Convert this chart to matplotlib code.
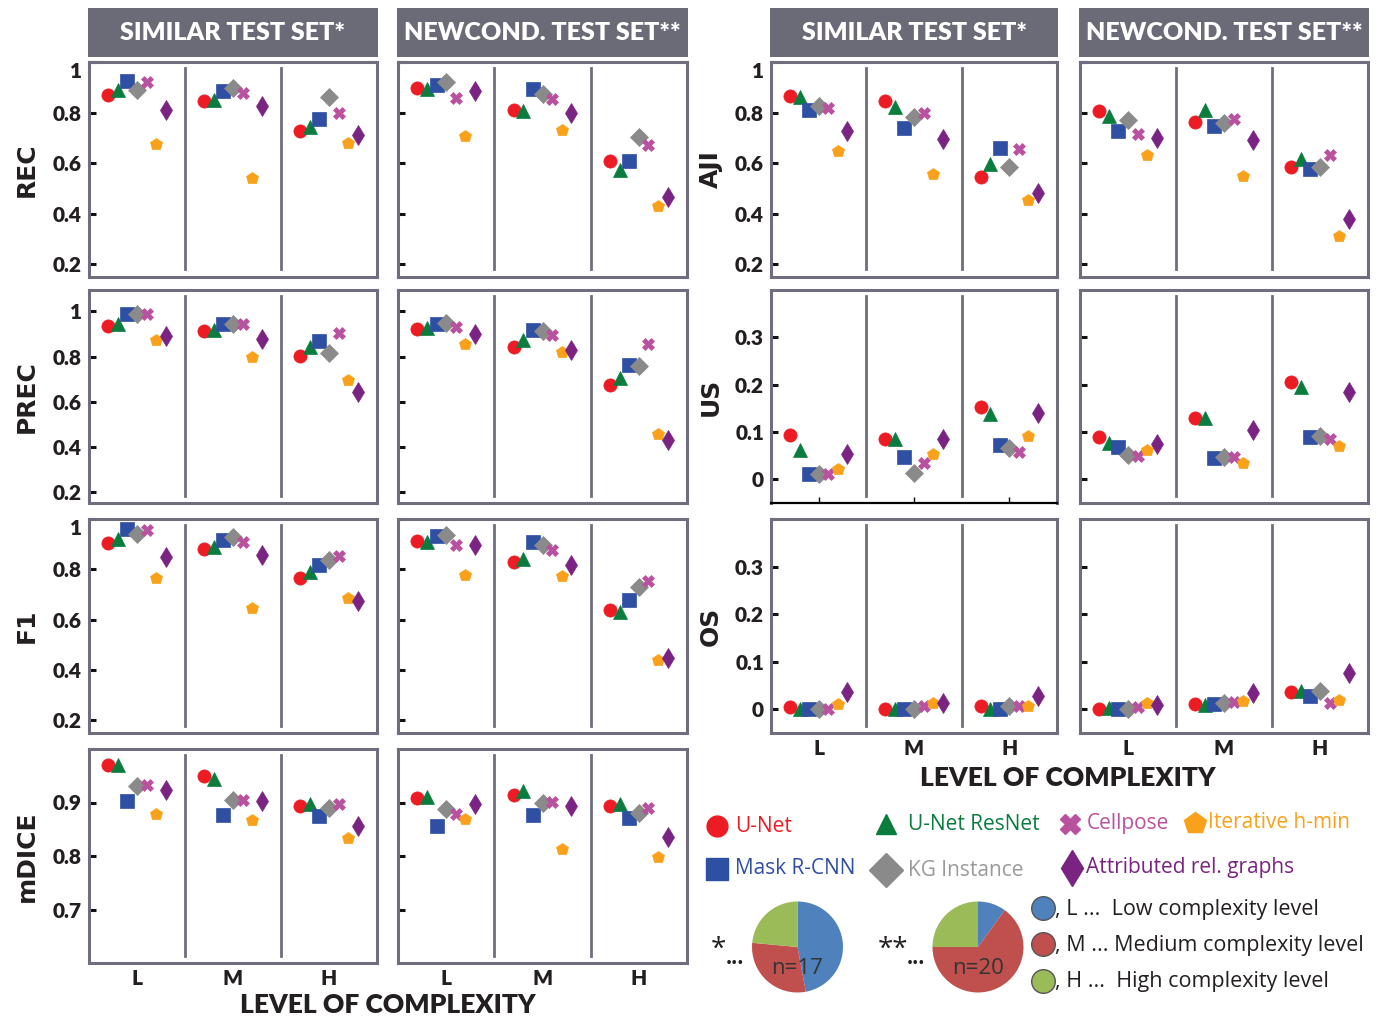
import matplotlib
matplotlib.use("Agg")
import matplotlib.pyplot as plt
from matplotlib.patches import Rectangle
from matplotlib.lines import Line2D

# ---------------------------------------------------------------- data
methods = ["U-Net", "U-Net ResNet", "Mask R-CNN", "KG Instance",
           "Cellpose", "Iterative h-min", "Attributed rel. graphs"]
levels = ["L", "M", "H"]

# each row: one complexity level (L, M, H); each column: one method (order above)
rec_similar = [[0.870, 0.888, 0.926, 0.891, 0.921, 0.676, 0.809],
               [0.846, 0.851, 0.886, 0.899, 0.878, 0.543, 0.825],
               [0.726, 0.742, 0.774, 0.861, 0.799, 0.679, 0.712]]
rec_newcond = [[0.899, 0.893, 0.908, 0.922, 0.858, 0.709, 0.886],
               [0.811, 0.807, 0.895, 0.875, 0.853, 0.733, 0.800],
               [0.607, 0.572, 0.608, 0.703, 0.672, 0.432, 0.466]]

prec_similar = [[0.934, 0.943, 0.990, 0.990, 0.990, 0.875, 0.891],
                [0.913, 0.916, 0.943, 0.946, 0.943, 0.797, 0.878],
                [0.803, 0.841, 0.869, 0.814, 0.906, 0.695, 0.642]]
prec_newcond = [[0.922, 0.926, 0.946, 0.947, 0.932, 0.854, 0.900],
                [0.844, 0.873, 0.919, 0.913, 0.897, 0.819, 0.829],
                [0.676, 0.704, 0.764, 0.757, 0.854, 0.457, 0.430]]

f1_similar = [[0.904, 0.920, 0.959, 0.941, 0.957, 0.764, 0.850],
              [0.881, 0.888, 0.917, 0.927, 0.910, 0.646, 0.856],
              [0.764, 0.791, 0.819, 0.837, 0.852, 0.688, 0.675]]
f1_newcond = [[0.914, 0.910, 0.933, 0.938, 0.896, 0.776, 0.896],
              [0.829, 0.841, 0.909, 0.896, 0.876, 0.775, 0.816],
              [0.639, 0.630, 0.678, 0.728, 0.755, 0.441, 0.447]]

mdice_similar = [[0.971, 0.971, 0.903, 0.931, 0.932, 0.879, 0.924],
                 [0.949, 0.944, 0.876, 0.904, 0.904, 0.867, 0.903],
                 [0.894, 0.898, 0.874, 0.889, 0.897, 0.833, 0.857]]
mdice_newcond = [[0.909, 0.911, 0.856, 0.887, 0.878, 0.869, 0.898],
                 [0.914, 0.922, 0.876, 0.899, 0.901, 0.814, 0.893],
                 [0.894, 0.898, 0.871, 0.881, 0.889, 0.798, 0.836]]

aji_similar = [[0.864, 0.860, 0.811, 0.825, 0.820, 0.648, 0.726],
               [0.844, 0.821, 0.739, 0.783, 0.800, 0.558, 0.694],
               [0.546, 0.596, 0.661, 0.584, 0.657, 0.454, 0.481]]
aji_newcond = [[0.805, 0.785, 0.727, 0.772, 0.717, 0.632, 0.700],
               [0.764, 0.809, 0.746, 0.759, 0.775, 0.551, 0.693],
               [0.584, 0.615, 0.576, 0.584, 0.633, 0.311, 0.379]]

us_similar = [[0.093, 0.062, 0.011, 0.011, 0.011, 0.022, 0.053],
              [0.085, 0.085, 0.047, 0.014, 0.034, 0.053, 0.086],
              [0.152, 0.137, 0.073, 0.067, 0.058, 0.092, 0.140]]
us_newcond = [[0.089, 0.076, 0.069, 0.052, 0.050, 0.063, 0.075],
              [0.130, 0.129, 0.046, 0.047, 0.047, 0.034, 0.104],
              [0.206, 0.195, 0.089, 0.092, 0.085, 0.071, 0.185]]

os_similar = [[0.005, 0.000, 0.000, 0.000, 0.000, 0.011, 0.037],
              [0.000, 0.000, 0.000, 0.000, 0.007, 0.014, 0.014],
              [0.007, 0.000, 0.001, 0.007, 0.007, 0.007, 0.028]]
os_newcond = [[0.001, 0.003, 0.000, 0.001, 0.004, 0.013, 0.008],
              [0.011, 0.009, 0.011, 0.013, 0.016, 0.018, 0.035],
              [0.037, 0.039, 0.027, 0.038, 0.014, 0.020, 0.076]]

# images per complexity level (L, M, H) in each test set
similar_counts = [8, 5, 4]
newcond_counts = [2, 13, 5]

# ---------------------------------------------------------------- styles
colors = ["#ed1c24", "#0a7d3e", "#2f4fa2", "#8a8a8a", "#b9519f", "#f9a11b", "#7a2383"]
markers = ["o", "^", "s", "D", "X", "p", "d"]
msizes = [9.5, 9.5, 9.5, 9.0, 9.0, 9.0, 10.5]
legend_text_colors = ["#ed1c24", "#0a7d3e", "#2f4fa2", "#9a9a9a", "#b9519f", "#f9a11b", "#7a2383"]
pie_colors = ["#4f81bd", "#c0504d", "#9bbb59"]
frame_color = "#6e6e7e"
header_color = "#6b6b78"

COND = ["Lato", "DejaVu Sans"]
PLAIN = ["Open Sans", "DejaVu Sans"]

W, H = 1380, 1019
fig = plt.figure(figsize=(W / 100, H / 100), dpi=100)


def px_axes(x0, y0, x1, y1, **kw):
    return fig.add_axes([x0 / W, 1 - y1 / H, (x1 - x0) / W, (y1 - y0) / H], **kw)


def draw_panel(ax, data, ylim, yticks, ylabels, show_ylabels, show_xlabels,
               black_bottom=False, top_label_down=False):
    for i, row in enumerate(data):
        for j, v in enumerate(row):
            ax.plot(i + 0.2 + 0.1 * j, v, linestyle="none", marker=markers[j],
                    markersize=msizes[j], color=colors[j], markeredgecolor=colors[j],
                    markeredgewidth=0.5, zorder=3)
    for xs in (1, 2):
        ax.axvline(xs, ymin=0.035, ymax=0.97, color=frame_color, lw=2.0, zorder=1)
    ax.set_xlim(0, 3)
    ax.set_ylim(*ylim)
    for s in ax.spines.values():
        s.set_color(frame_color)
        s.set_linewidth(2.2)
    ax.set_yticks(yticks)
    if show_ylabels:
        ax.set_yticklabels(ylabels, fontfamily=COND, fontweight="heavy", fontsize=15,
                           color="#231f20")
        if top_label_down:
            ax.get_yticklabels()[-1].set_verticalalignment("top")
    else:
        ax.set_yticklabels([])
    ax.tick_params(axis="y", direction="in", length=5, width=2.2, color="#111111", pad=5)
    ax.set_xticks([0.5, 1.5, 2.5])
    if show_xlabels:
        ax.set_xticklabels(levels, fontfamily=COND, fontweight="heavy", fontsize=15,
                           color="#231f20")
        ax.tick_params(axis="x", length=0, pad=4)
    else:
        ax.set_xticklabels([])
        ax.tick_params(axis="x", length=0)
    if black_bottom:
        ax.spines["bottom"].set_color("black")
        ax.spines["bottom"].set_linewidth(1.6)
        ax.tick_params(axis="x", direction="in", length=4, width=1, color="black")


left_cols = [(89, 377), (398, 687)]
right_cols = [(771, 1057), (1080, 1368)]
rows = [(62, 277), (290, 503), (519, 733), (749, 963)]

ticks_01 = [0.2, 0.4, 0.6, 0.8, 1.0]
labels_01 = ["0.2", "0.4", "0.6", "0.8", "1"]

left_metrics = [
    ("REC", rec_similar, rec_newcond, (0.15, 1.0), ticks_01, labels_01, True),
    ("PREC", prec_similar, prec_newcond, (0.153, 1.094), ticks_01, labels_01, False),
    ("F1", f1_similar, f1_newcond, (0.15, 1.0), ticks_01, labels_01, True),
    ("mDICE", mdice_similar, mdice_newcond, (0.6, 1.0), [0.7, 0.8, 0.9], ["0.7", "0.8", "0.9"], False),
]
right_metrics = [
    ("AJI", aji_similar, aji_newcond, (0.15, 1.0), ticks_01, labels_01, True),
    ("US", us_similar, us_newcond, (-0.05, 0.4), [0, 0.1, 0.2, 0.3], ["0", "0.1", "0.2", "0.3"], False),
    ("OS", os_similar, os_newcond, (-0.05, 0.4), [0, 0.1, 0.2, 0.3], ["0", "0.1", "0.2", "0.3"], False),
]


def draw_block(cols, metrics, label_x):
    for r, (name, d_sim, d_new, ylim, yt, yl, top_down) in enumerate(metrics):
        y0, y1 = rows[r]
        last = r == len(metrics) - 1
        for c, data in enumerate((d_sim, d_new)):
            x0, x1 = cols[c]
            ax = px_axes(x0, y0, x1, y1)
            draw_panel(ax, data, ylim, yt, yl, show_ylabels=(c == 0), show_xlabels=last,
                       black_bottom=(name == "US" and c == 0), top_label_down=top_down)
        fig.text(label_x / W, 1 - ((y0 + y1) / 2) / H, name, rotation=90, ha="center",
                 va="center", fontsize=18, fontweight="bold", family=["DejaVu Sans"],
                 color="#231f20")


draw_block(left_cols, left_metrics, 27)
draw_block(right_cols, right_metrics, 711)

# column headers
headers = ["SIMILAR TEST SET*", "NEWCOND. TEST SET**"]
for cols in (left_cols, right_cols):
    for (x0, x1), title in zip(cols, headers):
        hx0, hx1 = x0 - 1, x1 + 1
        fig.add_artist(Rectangle((hx0 / W, 1 - 57 / H), (hx1 - hx0) / W, 49 / H,
                                 transform=fig.transFigure, facecolor=header_color,
                                 edgecolor="none"))
        fig.text((hx0 + hx1) / 2 / W, 1 - 33 / H, title, ha="center", va="center",
                 color="white", fontsize=18, fontweight="heavy", family=COND)

# shared x-axis titles
fig.text(388 / W, 1 - 1005 / H, "LEVEL OF COMPLEXITY", ha="center", va="center",
         fontsize=19, fontweight="heavy", family=COND, color="#231f20")
fig.text(1068 / W, 1 - 778 / H, "LEVEL OF COMPLEXITY", ha="center", va="center",
         fontsize=19, fontweight="heavy", family=COND, color="#231f20")

# method legend
legend_slots = [(0, 717, 735, 826), (1, 886, 908, 824), (4, 1070, 1087, 824),
                (5, 1195, 1208, 823), (2, 717, 735, 869), (3, 886, 908, 870),
                (6, 1072, 1086, 868)]
leg_sizes = [15, 15, 16, 17, 15, 16, 18]
for j, mx, tx, ty in legend_slots:
    fig.add_artist(Line2D([mx / W], [1 - ty / H], marker=markers[j], markersize=leg_sizes[j],
                          color=colors[j], markeredgecolor=colors[j], linestyle="none",
                          transform=fig.transFigure))
    fig.text(tx / W, 1 - ty / H, methods[j], ha="left", va="center", fontsize=15,
             color=legend_text_colors[j], family=PLAIN)

# pies with the number of images per complexity level
for counts, cx, prefix, px in ((similar_counts, 797.5, "*", 718), (newcond_counts, 978, "**", 893)):
    r = 45.5
    pax = px_axes(cx - r, 947 - r, cx + r, 947 + r)
    pax.pie(counts, colors=pie_colors, startangle=90, counterclock=False,
            wedgeprops=dict(linewidth=0))
    pax.set_aspect("equal")
    pax.set_xlim(-1, 1)
    pax.set_ylim(-1, 1)
    pax.text(0, -0.48, f"n={sum(counts)}", ha="center", va="center", fontsize=16,
             color="#333333", family=PLAIN)
    fig.text(px / W, 1 - 950 / H, prefix, ha="center", va="center", fontsize=20,
             color="#231f20", family=PLAIN)
    fig.text((px + 17 + 6 * (len(prefix) - 1)) / W, 1 - 958 / H, "...", ha="center",
             va="center", fontsize=15, fontweight="bold", color="#231f20", family=PLAIN)

# complexity level key
key_rows = [(908, ", L ...  Low complexity level"),
            (944, ", M ... Medium complexity level"),
            (981, ", H ...  High complexity level")]
for (ky, txt), col in zip(key_rows, pie_colors):
    fig.add_artist(Line2D([1043 / W], [1 - ky / H], marker="o", markersize=17,
                          markerfacecolor=col, markeredgecolor="#555555", markeredgewidth=1.0,
                          linestyle="none", transform=fig.transFigure))
    fig.text(1055 / W, 1 - (ky + 1) / H, txt, ha="left", va="center", fontsize=15.5,
             color="#231f20", family=PLAIN)

fig.savefig("out.png", dpi=100, facecolor="white")
